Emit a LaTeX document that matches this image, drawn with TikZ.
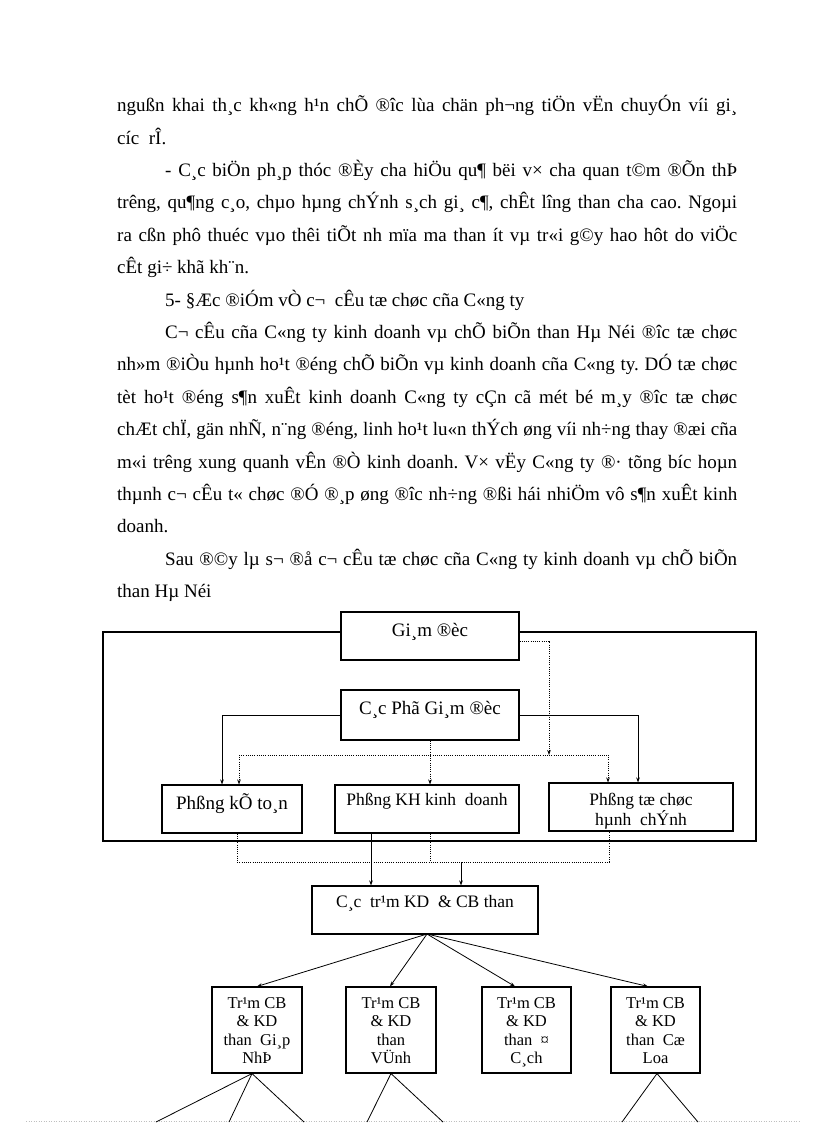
\documentclass[tikz,border=0pt]{standalone}
\usepackage{fontspec}
\setmainfont{Liberation Serif}
\usetikzlibrary{arrows.meta}
\newcommand\jl[2]{\makebox[#1pt][s]{#2}}
\newcommand\stk[3]{\raisebox{0pt}[#1][#2]{\vbox{\lineskiplimit=-\maxdimen\halign{\hfil##\hfil\cr#3\crcr}}}}
\frenchspacing
\begin{document}
\begin{tikzpicture}[x=1pt,y=-1pt,
  box/.style={draw, line width=1.1pt, fill=white, inner sep=0pt},
  ln/.style={line width=0.8pt},
  dl/.style={line width=0.8pt, dash pattern=on 1pt off 1.2pt},
  arr/.style={-{Stealth[length=5pt,width=3.6pt]}},
  body/.style={anchor=base west, inner sep=0pt, font=\fontsize{19}{19}\selectfont},
  bigf/.style={font=\fontsize{19}{22}\selectfont},
  midf/.style={font=\fontsize{17.5}{20}\selectfont},
  smf/.style={font=\fontsize{16.5}{18.5}\selectfont},
  tram/.style={box, smf, minimum height=86pt},
]
\useasboundingbox (0,0) rectangle (816,1123);
\fill[white] (0,0) rectangle (816,1123);

% body text
\node[body] (l1) at (117,111.7) {\jl{620}{ngußn khai th¸c kh«ng h¹n chÕ ®îc lùa chän ph¬ng tiÖn vËn chuyÓn víi gi¸}};
\node[body] (l2) at (117,144.1) {cíc\ \ rÎ.};
\node[body] (l3) at (165,176.5) {\jl{572}{- C¸c biÖn ph¸p thóc ®Èy cha hiÖu qu¶ bëi v× cha quan t©m ®Õn thÞ}};
\node[body] (l4) at (117,208.9) {\jl{620}{trêng, qu¶ng c¸o, chµo hµng chÝnh s¸ch gi¸ c¶, chÊt lîng than cha cao. Ngoµi}};
\node[body] (l5) at (117,241.3) {\jl{620}{ra cßn phô thuéc vµo thêi tiÕt nh mïa ma than ít vµ tr«i g©y hao hôt do viÖc}};
\node[body] (l6) at (117,273.7) {cÊt gi÷ khã kh¨n.};
\node[body] (l7) at (165,306.1) {5- §Æc ®iÓm vÒ c¬\ \ cÊu tæ chøc cña C«ng ty};
\node[body] (l8) at (165,338.5) {\jl{572}{C¬ cÊu cña C«ng ty kinh doanh vµ chÕ biÕn than Hµ Néi ®îc tæ chøc}};
\node[body] (l9) at (117,370.9) {\jl{620}{nh»m ®iÒu hµnh ho¹t ®éng chÕ biÕn vµ kinh doanh cña C«ng ty. DÓ tæ chøc}};
\node[body] (l10) at (117,403.3) {\jl{620}{tèt ho¹t ®éng s¶n xuÊt kinh doanh C«ng ty cÇn cã mét bé m¸y ®îc tæ chøc}};
\node[body] (l11) at (117,435.7) {\jl{620}{chÆt chÏ, gän nhÑ, n¨ng ®éng, linh ho¹t lu«n thÝch øng víi nh÷ng thay ®æi cña}};
\node[body] (l12) at (117,468.1) {\jl{620}{m«i trêng xung quanh vÊn ®Ò kinh doanh. V× vËy C«ng ty ®· tõng bíc hoµn}};
\node[body] (l13) at (117,500.5) {\jl{620}{thµnh c¬ cÊu t« chøc ®Ó ®¸p øng ®îc nh÷ng ®ßi hái nhiÖm vô s¶n xuÊt kinh}};
\node[body] (l14) at (117,532.9) {doanh.};
\node[body] (l15) at (165,565.3) {\jl{572}{Sau ®©y lµ s¬ ®å c¬ cÊu tæ chøc cña C«ng ty kinh doanh vµ chÕ biÕn}};
\node[body] (l16) at (117,597.7) {than Hµ Néi};

% faint page edge
\draw[black!25, line width=0.8pt, dash pattern=on 1pt off 1.5pt] (26,1121) -- (800,1121);

% outer frame
\draw[line width=1.1pt] (103,632) rectangle (756,841);

% boxes
\node[box, bigf, minimum width=178pt, minimum height=48pt, text height=14pt, text depth=14pt] (gd) at (430,636) {Gi¸m ®èc};
\node[box, bigf, minimum width=178pt, minimum height=50pt, text height=14pt, text depth=16pt] (pgd) at (430,715) {C¸c Phã Gi¸m ®èc};
\node[box, bigf, minimum width=140pt, minimum height=48pt, text height=14pt, text depth=14pt] (ktoan) at (232,809) {Phßng kÕ to¸n};
\node[box, midf, minimum width=184pt, minimum height=48pt, text height=13pt, text depth=21pt] (kh) at (427,809) {Phßng KH kinh\ \ doanh};
\node[box, midf, minimum width=184pt, minimum height=48pt] (tc) at (641,807) {\stk{36pt}{0pt}{Phßng tæ chøc\cr hµnh\ \ chÝnh}};
\node[box, midf, minimum width=226pt, minimum height=48pt, text height=13pt, text depth=19pt] (ctram) at (425,910) {C¸c\ \ tr¹m KD\ \ \& CB than};
\node[tram, minimum width=90pt] (t1) at (257,1030) {\stk{67pt}{0pt}{Tr¹m CB\cr\& KD\cr than\ \ Gi¸p\cr NhÞ}};
\node[tram, minimum width=90pt] (t2) at (391,1030) {\stk{67pt}{0pt}{Tr¹m CB\cr\& KD\cr than\cr VÜnh}};
\node[tram, minimum width=89pt] (t3) at (526.5,1030) {\stk{67pt}{0pt}{Tr¹m CB\cr\& KD\cr than\ \ ¤\cr C¸ch}};
\node[tram, minimum width=89pt] (t4) at (655.5,1030) {\stk{67pt}{0pt}{Tr¹m CB\cr\& KD\cr than\ \ Cæ\cr Loa}};

% solid connectors from Cac Pho Giam doc
\draw[ln,arr] (pgd.west) -| ([xshift=-10pt]ktoan.north);
\draw[ln,arr] (pgd.east) -| ([xshift=-3pt]tc.north);

% dotted bus above departments
\coordinate (dA) at (239,755);
\coordinate (dB) at (608,755);
\coordinate (dM) at (549,755);
\draw[dl] (dA) -- (dB);
\draw[dl,arr] ([yshift=-5pt]gd.east) -| (dM);
\draw[dl,arr] (dA) -- (dA |- ktoan.north);
\draw[dl,arr] (pgd.south) -- (pgd.south |- kh.north);
\draw[dl,arr] (dB) -- (dB |- tc.north);

% dotted bus below departments
\coordinate (eA) at (237,862);
\coordinate (eB) at (609,862);
\draw[dl] (ktoan.south -| eA) -- (eA) -- (eB) -- (tc.south -| eB);
\draw[dl] (pgd.south |- kh.south) -- (pgd.south |- eA);

% solid arrows to Cac tram
\coordinate (s1) at (371,0);
\coordinate (s2) at (461,0);
\draw[ln,arr] (kh.south -| s1) -- (ctram.north -| s1);
\draw[ln,arr] (eA -| s2) -- (ctram.north -| s2);

% fan to tram boxes
\coordinate (fo) at (427,934);
\draw[ln,arr] (fo) -- (t1.north);
\draw[ln,arr] (fo) -- ([xshift=-1pt]t2.north);
\draw[ln,arr] (fo) -- ([xshift=-11.5pt]t3.north);
\draw[ln,arr] (fo) -- ([xshift=-7.5pt]t4.north);

% lines below tram boxes (cut off by page)
\coordinate (b1) at (156,1122);
\coordinate (b2) at (229,1122);
\coordinate (b3) at (304,1122);
\coordinate (b4) at (367,1122);
\coordinate (b5) at (443,1122);
\coordinate (b6) at (622,1122);
\coordinate (b7) at (698,1122);
\draw[ln] ([xshift=-5pt]t1.south) -- (b1);
\draw[ln] ([xshift=-5pt]t1.south) -- (b2);
\draw[ln] ([xshift=-5pt]t1.south) -- (b3);
\draw[ln] (t2.south) -- (b4);
\draw[ln] (t2.south) -- (b5);
\draw[ln] ([xshift=1.5pt]t4.south) -- (b6);
\draw[ln] ([xshift=1.5pt]t4.south) -- (b7);
\end{tikzpicture}
\end{document}
